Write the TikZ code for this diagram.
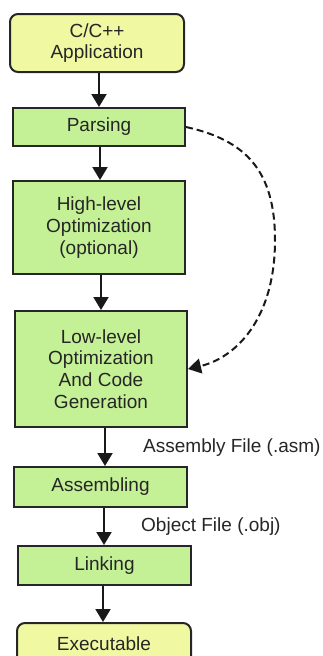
\documentclass[tikz,border=0pt]{standalone}
\usepackage{fontspec}
\setmainfont{Liberation Sans}
\usetikzlibrary{arrows.meta}
\definecolor{boxgreen}{RGB}{196,240,150}
\definecolor{boxyellow}{RGB}{240,248,162}
\begin{document}
\begin{tikzpicture}[x=1pt,y=-1pt,
  base/.style={draw=black!85, line width=2pt, align=center, inner sep=0pt,
    font=\fontsize{19}{21.7}\selectfont, text=black!85},
  stage/.style={base, fill=boxgreen},
  term/.style={base, fill=boxyellow, rounded corners=8pt},
  arr/.style={line width=2pt, draw=black!90, -{Triangle[width=15pt,length=13pt]}},
  dasharr/.style={line width=2pt, draw=black!90, dash pattern=on 7pt off 4pt, -{Triangle[width=15pt,length=13pt]}},
  lbl/.style={anchor=west, inner sep=0pt, font=\fontsize{19}{21.7}\selectfont, text=black!85}]
\useasboundingbox (0,0) rectangle (322,656);
\clip (0,0) rectangle (322,656);
\node[term, minimum width=174pt, minimum height=58pt] (app) at (97,43) {C/C++\\Application};
\node[stage, minimum width=172pt, minimum height=38pt] (parse) at (99,127) {Parsing};
\node[stage, minimum width=172pt, minimum height=93pt] (high) at (99,227.5) {High-level\\Optimization\\(optional)};
\node[stage, minimum width=172pt, minimum height=116pt] (low) at (101,369) {Low-level\\Optimization\\And Code\\Generation};
\node[stage, minimum width=173pt, minimum height=40pt] (asm) at (100.5,487) {Assembling};
\node[stage, minimum width=173pt, minimum height=39pt] (link) at (104.5,565.5) {Linking};
\node[term, minimum width=174pt, minimum height=42pt] (exe) at (104,644) {Executable};
\node[lbl] (asmlbl) at (143,448) {Assembly File (.asm)};
\node[lbl] (objlbl) at (141,527) {Object File (.obj)};
\draw[arr] (app.south -| 99,0) -- (parse.north -| 99,0);
\draw[arr] (parse.south -| 100,0) -- (high.north -| 100,0);
\draw[arr] (high.south -| 101,0) -- (low.north -| 101,0);
\draw[arr] (low.south -| 105,0) -- (asm.north -| 105,0);
\draw[arr] (asm.south -| 104,0) -- (link.north -| 104,0);
\draw[arr] (link.south -| 103,0) -- (exe.north -| 103,0);
\draw[dasharr] (parse.east) .. controls (245,140) and (275,170) .. (275,240)
  .. controls (275,320) and (235,358) .. (low.east);
\end{tikzpicture}
\end{document}
